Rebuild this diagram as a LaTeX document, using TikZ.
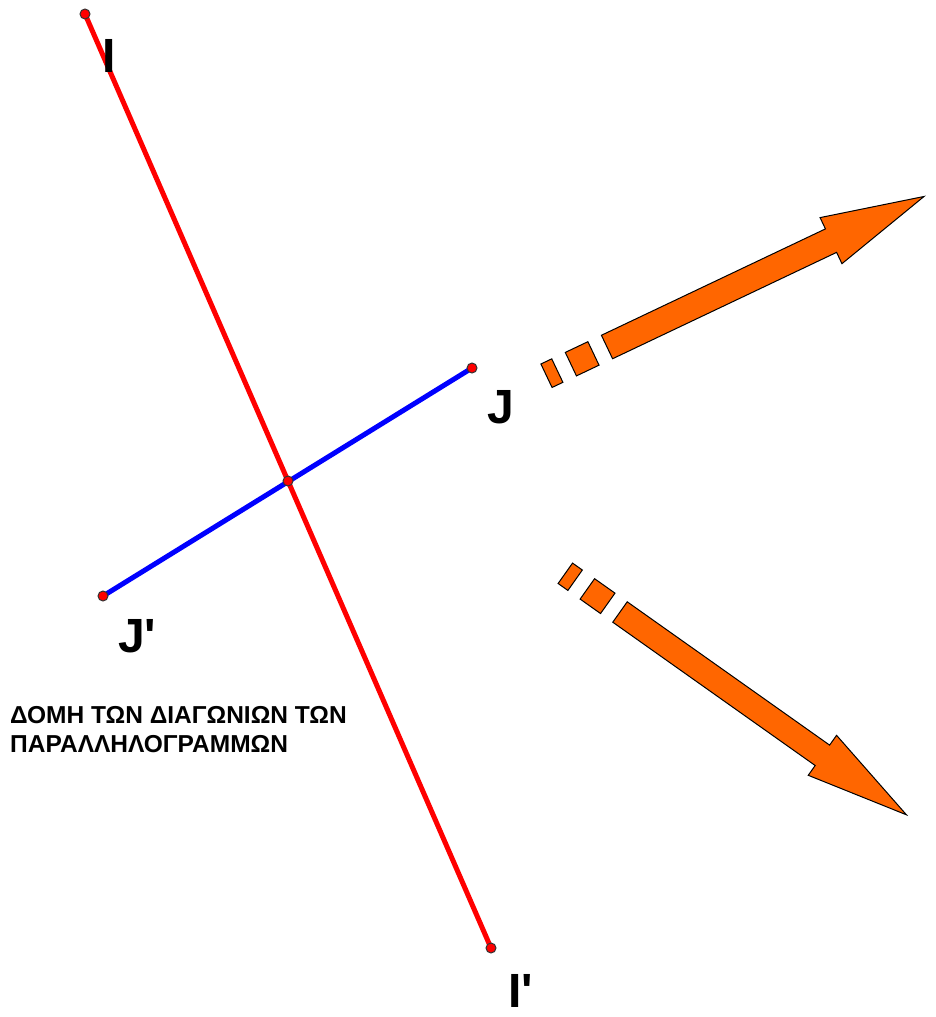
\documentclass[tikz,border=0pt]{standalone}
\usepackage{fontspec}
\setmainfont{Liberation Sans}
\newfontfamily\lblfont{Liberation Sans}
\usetikzlibrary{calc}
\definecolor{arroworange}{HTML}{FF6600}
\tikzset{
  redline/.style={draw=red, line width=5pt},
  blueline/.style={draw=blue, line width=5pt},
  ptdot/.style={circle, fill=red, draw=black!80, line width=1pt, minimum size=10pt, inner sep=0pt},
  ptlabel/.style={anchor=base west, inner sep=0pt, font=\lblfont\fontsize{48}{52}\selectfont\bfseries},
  caption/.style={anchor=base west, inner sep=0pt, font=\fontsize{24.5}{29}\selectfont\bfseries},
  fatarrow/.style={fill=arroworange, draw=black, line width=1pt, line join=miter}
}
\begin{document}
\begin{tikzpicture}[x=1pt, y=-1pt]
\useasboundingbox (0,0) rectangle (935,1017);
% points
\coordinate (I) at (85,14);
\coordinate (Ip) at (491,948);
\coordinate (J) at (472,368);
\coordinate (Jp) at (103,596);
\coordinate (O) at ($(I)!0.5!(Ip)$);
% diagonals
\draw[redline] (I) -- (Ip);
\draw[blueline] (J) -- (Jp);
\node[ptdot] (dI) at (I) {};
\node[ptdot] (dIp) at (Ip) {};
\node[ptdot] (dJ) at (J) {};
\node[ptdot] (dJp) at (Jp) {};
\node[ptdot] (dO) at (O) {};
% labels
\node[ptlabel] (lI) at (102,72) {I};
\node[ptlabel] (lJ) at (487,423) {J};
\node[ptlabel] (lJp) at (118,652) {J'};
\node[ptlabel] (lIp) at (508,1007) {I'};
% caption
\node[caption] (t1) at (10,723) {ΔΟΜΗ ΤΩΝ ΔΙΑΓΩΝΙΩΝ ΤΩΝ};
\node[caption] (t2) at (10,752) {ΠΑΡΑΛΛΗΛΟΓΡΑΜΜΩΝ};
% striped arrows
\begin{scope}[shift={(607,347)}, rotate=25.4]
  \draw[fatarrow] (0,-13) -- (248,-13) -- (248,-25.5) -- (351,0) -- (248,25.5) -- (248,13) -- (0,13) -- cycle;
  \draw[fatarrow] (-40,-13) rectangle (-15,13);
  \draw[fatarrow] (-67,-13) rectangle (-55,13);
\end{scope}
\begin{scope}[shift={(620,612)}, rotate=-35.3]
  \draw[fatarrow] (0,-12.5) -- (248,-12.5) -- (248,-24.5) -- (351,0) -- (248,24.5) -- (248,12.5) -- (0,12.5) -- cycle;
  \draw[fatarrow] (-40,-12.5) rectangle (-15,12.5);
  \draw[fatarrow] (-67,-12.5) rectangle (-55,12.5);
\end{scope}
\end{tikzpicture}
\end{document}
